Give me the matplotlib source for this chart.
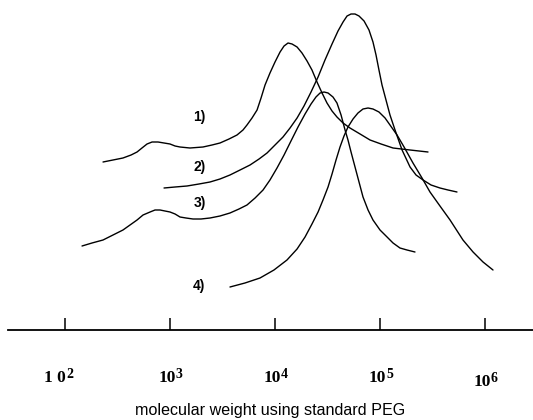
import numpy as np
import matplotlib
matplotlib.use('Agg')
import matplotlib.pyplot as plt
from matplotlib.transforms import offset_copy

# traced curves: log10(molecular weight) vs detector response (arbitrary units)
logmw_1 = [2.362, 2.457, 2.552, 2.629, 2.686, 2.733, 2.781, 2.829, 2.886, 2.943,
           3.000, 3.048, 3.095, 3.190, 3.314, 3.400, 3.476, 3.562, 3.638, 3.695,
           3.733, 3.781, 3.829, 3.867, 3.905, 3.952, 4.000, 4.048, 4.086, 4.124,
           4.162, 4.210, 4.257, 4.305, 4.352, 4.400, 4.448, 4.495, 4.543, 4.590,
           4.648, 4.714, 4.810, 4.905, 5.010, 5.124, 5.286, 5.457]
resp_1 = [168, 170, 172, 175, 178, 182, 186, 188, 188, 187,
          186, 184, 183, 182, 183, 185, 187, 191, 195, 200,
          205, 212, 220, 232, 245, 257, 268, 278, 284, 287,
          286, 283, 277, 269, 260, 248, 237, 227, 219, 213,
          207, 202, 196, 190, 186, 182, 180, 178]

logmw_2 = [2.943, 3.048, 3.162, 3.276, 3.381, 3.476, 3.571, 3.667, 3.762, 3.848,
           3.924, 4.000, 4.076, 4.143, 4.210, 4.276, 4.343, 4.410, 4.476, 4.543,
           4.600, 4.648, 4.686, 4.724, 4.762, 4.800, 4.848, 4.895, 4.933, 4.962,
           4.990, 5.019, 5.057, 5.095, 5.143, 5.210, 5.286, 5.343, 5.410, 5.486,
           5.571, 5.648, 5.733]
resp_2 = [142, 143, 144, 146, 148, 151, 155, 160, 165, 171,
          177, 185, 193, 202, 212, 224, 238, 253, 270, 286,
          299, 308, 314, 316, 316, 314, 309, 300, 288, 275,
          260, 245, 230, 215, 200, 180, 163, 155, 150, 145,
          142, 140, 138]

logmw_3 = [2.162, 2.257, 2.362, 2.457, 2.552, 2.619, 2.686, 2.743, 2.810, 2.857,
           2.905, 2.952, 3.000, 3.048, 3.095, 3.152, 3.219, 3.295, 3.381, 3.476,
           3.571, 3.657, 3.733, 3.810, 3.886, 3.952, 4.019, 4.086, 4.152, 4.219,
           4.286, 4.343, 4.390, 4.429, 4.467, 4.505, 4.552, 4.590, 4.629, 4.667,
           4.695, 4.724, 4.762, 4.800, 4.838, 4.886, 4.933, 5.000, 5.067, 5.124,
           5.190, 5.257, 5.333]
resp_3 = [84, 87, 90, 95, 100, 105, 110, 115, 118, 120,
          120, 119, 118, 116, 113, 112, 111, 111, 112, 114,
          117, 121, 125, 132, 140, 150, 162, 175, 189, 203,
          216, 226, 233, 237, 238, 237, 233, 227, 215, 200,
          190, 178, 163, 148, 133, 120, 110, 100, 93, 87,
          82, 80, 78]

logmw_4 = [3.571, 3.714, 3.857, 3.990, 4.114, 4.210, 4.286, 4.352, 4.410, 4.457,
           4.505, 4.543, 4.581, 4.619, 4.657, 4.695, 4.743, 4.790, 4.838, 4.886,
           4.933, 4.990, 5.048, 5.095, 5.162, 5.229, 5.314, 5.400, 5.476, 5.571,
           5.667, 5.790, 5.886, 5.981, 6.076]
resp_4 = [43, 47, 52, 60, 70, 81, 93, 106, 118, 130,
          143, 156, 170, 183, 194, 203, 211, 217, 221, 222,
          221, 218, 212, 205, 195, 183, 167, 152, 138, 124,
          110, 90, 78, 68, 60]

curve_labels = ['1)', '2)', '3)', '4)']
label_logmw = [3.28, 3.28, 3.28, 3.28]
label_resp = [213, 163, 127, 44]

tick_exp = [2, 3, 4, 5, 6]

fig = plt.figure(figsize=(5.33, 4.2), dpi=100)
ax = fig.add_axes([8/533, 90/420, 525/533, 330/420])
ax.set_xscale('log')
ax.set_xlim(10**1.457, 10**6.457)
ax.set_ylim(0, 330)

for lx, ly in [(logmw_1, resp_1), (logmw_2, resp_2), (logmw_3, resp_3), (logmw_4, resp_4)]:
    ax.plot(10**np.array(lx), ly, color='k', lw=1.0, clip_on=False,
            solid_joinstyle='round', solid_capstyle='round')

for lab, lx, ly in zip(curve_labels, label_logmw, label_resp):
    ax.text(10**lx, ly, lab, ha='center', va='center', fontsize=10,
            fontweight='bold', family='Liberation Sans')

for s in ['top', 'left', 'right']:
    ax.spines[s].set_visible(False)
ax.spines['bottom'].set_linewidth(1.3)
ax.set_yticks([])
ax.set_xticks([10.0**k for k in tick_exp])
ax.xaxis.set_minor_locator(matplotlib.ticker.NullLocator())
ax.tick_params(axis='x', direction='in', length=8.6, width=1.1, labelbottom=False)

# tick labels drawn by hand (odd spacing of the original)
for k in tick_exp:
    base_y = -56 if k == 6 else -52
    if k == 2:
        base, shift = '1 0', 0.7
    else:
        base, shift = '10', 4.0
    tb = offset_copy(ax.transData, fig=fig, x=shift, y=0, units='points')
    ax.text(10.0**k, base_y, base, transform=tb, ha='right', va='baseline',
            fontsize=12.5, fontweight='bold', family='Liberation Serif', clip_on=False)
    te = offset_copy(ax.transData, fig=fig, x=shift + 0.3, y=3, units='points')
    ax.text(10.0**k, base_y, str(k), transform=te, ha='left', va='baseline',
            fontsize=10, fontweight='bold', family='Liberation Serif', clip_on=False)

fig.text(270/533, 1 - 410/420, 'molecular weight using standard PEG',
         ha='center', va='center', fontsize=11.6, family='Liberation Sans')

plt.savefig('out.png', dpi=100)
